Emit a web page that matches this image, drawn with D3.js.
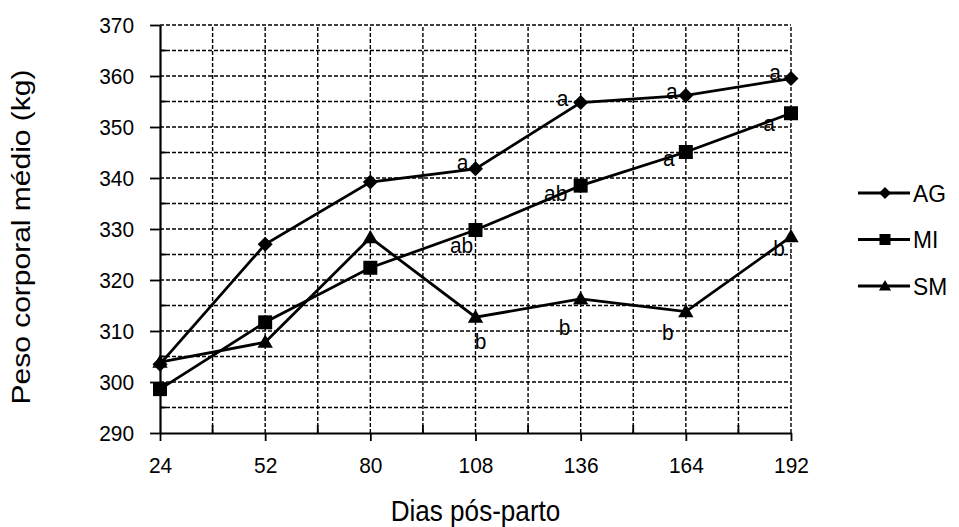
<!DOCTYPE html>
<html>
<head>
<meta charset="utf-8">
<script src="https://cdn.jsdelivr.net/npm/d3@7/dist/d3.min.js"></script>
<style>
  body { margin: 0; background: #fff; }
  text { font-family: "Liberation Sans", Arial, sans-serif; fill: #000; }
</style>
</head>
<body>
<svg id="svgContent" width="959" height="527"></svg>
<script>
// chart values
const days = [24, 52, 80, 108, 136, 164, 192]
const seriesNames = ["AG", "MI", "SM"]
const ag = [303.5, 327.0, 339.2, 341.8, 354.8, 356.2, 359.5]
const mi = [298.6, 311.7, 322.4, 329.8, 338.5, 345.1, 352.7]
const sm = [303.9, 307.8, 328.3, 312.7, 316.3, 313.8, 328.5]
const yTicks = [290, 300, 310, 320, 330, 340, 350, 360, 370]
const xTicks = [24, 52, 80, 108, 136, 164, 192]

// significance letters: series, day, letter
const letters = [
    ["AG", 108, "a"], ["AG", 136, "a"], ["AG", 164, "a"], ["AG", 192, "a"],
    ["MI", 108, "ab"], ["MI", 136, "ab"], ["MI", 164, "a"], ["MI", 192, "a"],
    ["SM", 108, "b"], ["SM", 136, "b"], ["SM", 164, "b"], ["SM", 192, "b"]
]
// where each letter sits relative to its marker (px)
const letterOffsets = [
    [-13, -7], [-18, -4], [-14, -4], [-16, -6],
    [-14, 15], [-25, 8], [-17, 6], [-22, 10],
    [5, 24], [-16, 28], [-18, 21], [-12, 12]
]

const svg = d3.select('#svgContent')
const plotLeft = 160, plotRight = 791, plotTop = 25, plotBottom = 433
const sx = 0.95  // text in the picture looks a little squeezed sideways

const x = d3.scaleLinear().domain([24, 192]).range([plotLeft, plotRight])
const y = d3.scaleLinear().domain([290, 370]).range([plotBottom, plotTop])

const values = { AG: ag, MI: mi, SM: sm }

// marker shapes
function marker(kind, s) {
    if (kind === "AG") return `M0,${-s}L${s},0L0,${s}L${-s},0Z`
    if (kind === "MI") return `M${-s},${-s}H${s}V${s}H${-s}Z`
    return `M0,${-s * 1.1}L${s * 1.1},${s * 0.8}H${-s * 1.1}Z`
}

// Grid (dashed)
const grid = svg.append('g').attr('class', 'grid')
    .style('stroke', '#000')
    .style('stroke-width', 1.4)
    .style('stroke-dasharray', '4,2')

grid.append('g').selectAll('line')
    .data(d3.range(38, 193, 14))
    .join('line')
    .attr('x1', d => x(d)).attr('x2', d => x(d))
    .attr('y1', y(290)).attr('y2', y(370))

grid.append('g').selectAll('line')
    .data(d3.range(295, 371, 5))
    .join('line')
    .attr('x1', x(24)).attr('x2', x(192))
    .attr('y1', d => y(d)).attr('y2', d => y(d))

// Axes
const yAxis = svg.append('g')
    .attr('transform', `translate(${plotLeft},0)`)
    .call(d3.axisLeft(y).tickValues(yTicks).tickSize(10).tickSizeOuter(0).tickPadding(0))
const xAxis = svg.append('g')
    .attr('transform', `translate(0,${plotBottom})`)
    .call(d3.axisBottom(x).tickValues(xTicks).tickSize(8).tickSizeOuter(0).tickPadding(0))

yAxis.selectAll('.domain').attr('stroke-width', 2.2)
xAxis.selectAll('.domain').attr('stroke-width', 2.2)
yAxis.selectAll('.tick line').attr('stroke-width', 1.8)
xAxis.selectAll('.tick line').attr('stroke-width', 1.8)

yAxis.attr('font-family', null).attr('font-size', null)
xAxis.attr('font-family', null).attr('font-size', null)

yAxis.selectAll('.tick text')
    .style('font-size', '22px')
    .attr('x', -26 / sx)
    .attr('dy', '0.35em')
    .attr('transform', `scale(${sx},1)`)

xAxis.selectAll('.tick text')
    .style('font-size', '22px')
    .attr('y', 32)
    .attr('dy', '0.35em')
    .attr('transform', `scale(${sx},1)`)

// minor ticks pointing inward
svg.append('g').selectAll('line')
    .data(d3.range(38, 193, 28))
    .join('line')
    .attr('x1', d => x(d)).attr('x2', d => x(d))
    .attr('y1', plotBottom).attr('y2', plotBottom - 8)
    .attr('stroke', '#000').attr('stroke-width', 1.8)

svg.append('g').selectAll('line')
    .data(d3.range(295, 370, 10))
    .join('line')
    .attr('x1', plotLeft).attr('x2', plotLeft + 6)
    .attr('y1', d => y(d)).attr('y2', d => y(d))
    .attr('stroke', '#000').attr('stroke-width', 1.8)

// Series lines and markers
const line = d3.line()
    .x((d, i) => x(days[i]))
    .y(d => y(d))

seriesNames.forEach(name => {
    svg.append('path')
        .datum(values[name])
        .attr('d', line)
        .attr('fill', 'none')
        .attr('stroke', '#000')
        .attr('stroke-width', 2.8)

    svg.append('g').selectAll('path')
        .data(values[name])
        .join('path')
        .attr('d', marker(name, name === "AG" ? 7.5 : 7))
        .attr('transform', (d, i) => `translate(${x(days[i])},${y(d)})`)
        .attr('fill', '#000')
})

// Letters
svg.append('g').selectAll('text')
    .data(letters)
    .join('text')
    .attr('text-anchor', 'middle')
    .attr('dy', '0.35em')
    .style('font-size', '22px')
    .attr('transform', (d, i) => {
        const v = values[d[0]][days.indexOf(d[1])]
        return `translate(${x(d[1]) + letterOffsets[i][0]},${y(v) + letterOffsets[i][1]}) scale(${sx},1)`
    })
    .text(d => d[2])

// Legend
const legend = svg.append('g').selectAll('g')
    .data(seriesNames)
    .join('g')
    .attr('transform', (d, i) => `translate(858,${193 + i * 46.5})`)

legend.append('line')
    .attr('x1', 0).attr('x2', 52)
    .attr('stroke', '#000').attr('stroke-width', 2.8)
legend.append('path')
    .attr('d', d => marker(d, d === "AG" ? 6 : 5.5))
    .attr('transform', 'translate(27,0)')
    .attr('fill', '#000')
legend.append('text')
    .attr('dy', '0.36em')
    .style('font-size', '24px')
    .attr('transform', `translate(55,0) scale(${sx},1)`)
    .text(d => d)

// Axis titles
svg.append('text')
    .attr('text-anchor', 'middle')
    .style('font-size', '29px')
    .attr('transform', `translate(${(plotLeft + plotRight) / 2},521) scale(0.9,1)`)
    .text('Dias pós-parto')

svg.append('text')
    .attr('text-anchor', 'middle')
    .style('font-size', '30px')
    .attr('transform', `translate(30,${(plotTop + plotBottom) / 2 + 8}) rotate(-90) scale(1,0.85)`)
    .text('Peso corporal médio (kg)')
</script>
</body>
</html>
